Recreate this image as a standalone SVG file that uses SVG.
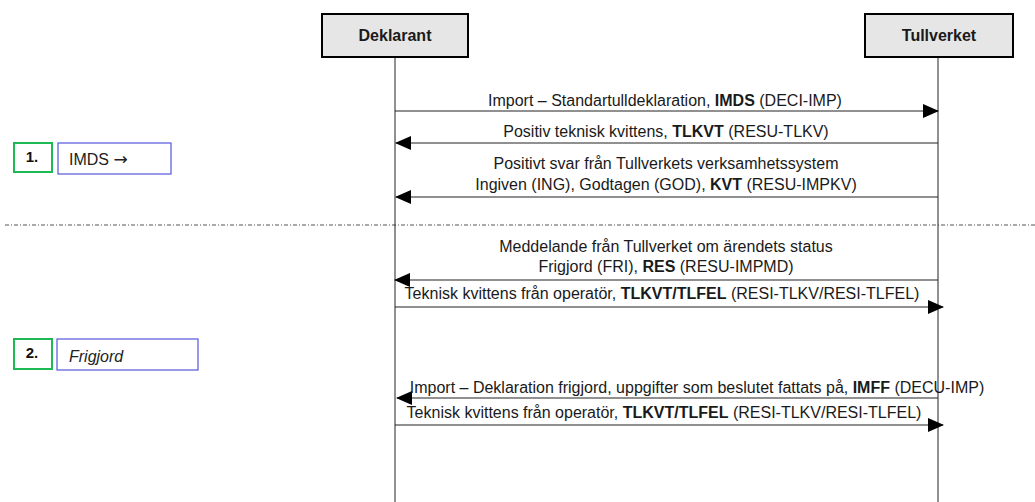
<svg xmlns="http://www.w3.org/2000/svg" width="1035" height="502" viewBox="0 0 1035 502">
<defs>
<marker id="ah" markerWidth="16" markerHeight="14" refX="15" refY="7" orient="auto" markerUnits="userSpaceOnUse">
<path d="M0,0 L16,7 L0,14 Z" fill="#000"/>
</marker>
<style>
.hdr{fill:#e6e6e6;stroke:#000;stroke-width:2}
.ht{font-family:"Liberation Sans",Arial,sans-serif;font-size:16px;font-weight:bold;fill:#1a1a1a;text-anchor:middle}
.life{stroke:#222;stroke-width:1}
.msg{stroke:#222;stroke-width:1.2;fill:none;marker-end:url(#ah)}
.mt{font-family:"Liberation Sans",Arial,sans-serif;font-size:16px;fill:#1a1a1a;text-anchor:middle}
.b{font-weight:bold}
.gb{fill:#fff;stroke:#1db954;stroke-width:2}
.bb{fill:#fff;stroke:#5555dd;stroke-width:1.2}
.st{font-family:"Liberation Sans",Arial,sans-serif;font-size:15px;font-weight:bold;fill:#111;text-anchor:middle}
.lt{font-family:"Liberation Sans",Arial,sans-serif;font-size:16px;fill:#222}
</style>
</defs>
<line x1="5" y1="225" x2="1035" y2="225" stroke="#555" stroke-width="1" stroke-dasharray="4,2,1,2"/>
<g id="deklarant">
<line class="life" x1="395" y1="57" x2="395" y2="502"/>
<rect class="hdr" x="322" y="14" width="146" height="43"/>
<text class="ht" x="395" y="41">Deklarant</text>
</g>
<g id="tullverket">
<line class="life" x1="938" y1="57" x2="938" y2="502"/>
<rect class="hdr" x="865" y="14" width="148" height="43"/>
<text class="ht" x="939" y="41">Tullverket</text>
</g>
<g id="step1">
<rect class="gb" x="14" y="143" width="38" height="29"/>
<text class="st" x="32" y="162">1.</text>
<rect class="bb" x="58" y="143" width="113" height="31"/>
<text class="lt" x="69" y="165">IMDS <tspan font-family="'DejaVu Sans',sans-serif" font-size="17">→</tspan></text>
</g>
<g id="step2">
<rect class="gb" x="14" y="339" width="38" height="30"/>
<text class="st" x="32" y="358">2.</text>
<rect class="bb" x="57" y="339" width="141" height="31"/>
<text class="lt" x="69" y="362" font-style="italic">Frigjord</text>
</g>
<g id="connectors">
<line class="msg" x1="395" y1="111" x2="938" y2="111"/>
<text class="mt" x="665" y="106">Import – Standartulldeklaration, <tspan class="b">IMDS</tspan> (DECI-IMP)</text>
<line class="msg" x1="938" y1="143" x2="396" y2="143"/>
<text class="mt" x="666" y="137">Positiv teknisk kvittens, <tspan class="b">TLKVT</tspan> (RESU-TLKV)</text>
<line class="msg" x1="938" y1="197" x2="396" y2="197"/>
<text class="mt" x="666" y="169">Positivt svar från Tullverkets verksamhetssystem</text>
<text class="mt" x="666" y="190">Ingiven (ING), Godtagen (GOD), <tspan class="b">KVT</tspan> (RESU-IMPKV)</text>
<line class="msg" x1="938" y1="280" x2="395" y2="280"/>
<text class="mt" x="666" y="252">Meddelande från Tullverket om ärendets status</text>
<text class="mt" x="666" y="272">Frigjord (FRI), <tspan class="b">RES</tspan> (RESU-IMPMD)</text>
<line class="msg" x1="395" y1="307" x2="943" y2="307"/>
<text class="mt" x="662" y="299">Teknisk kvittens från operatör, <tspan class="b">TLKVT/TLFEL</tspan> (RESI-TLKV/RESI-TLFEL)</text>
<line class="msg" x1="938" y1="398" x2="397" y2="398"/>
<text class="mt" x="697" y="393">Import – Deklaration frigjord, uppgifter som beslutet fattats på, <tspan class="b">IMFF</tspan> (DECU-IMP)</text>
<line class="msg" x1="395" y1="425" x2="943" y2="425"/>
<text class="mt" x="664" y="418">Teknisk kvittens från operatör, <tspan class="b">TLKVT/TLFEL</tspan> (RESI-TLKV/RESI-TLFEL)</text>
</g>
</svg>
